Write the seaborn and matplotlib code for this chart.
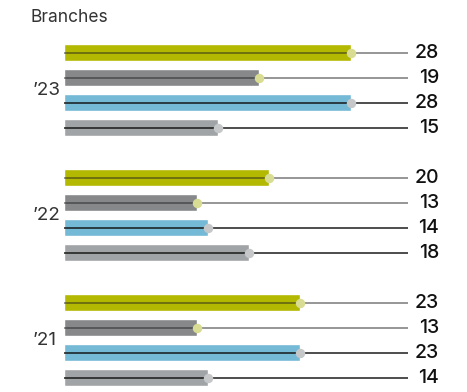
import numpy as np
import pandas as pd
import matplotlib
matplotlib.use("Agg")
import matplotlib.pyplot as plt
import seaborn as sns

# ---- data ----
years = ["’23", "’22", "’21"]
series = ["A", "B", "C", "D"]
values_23 = [28, 19, 28, 15]
values_22 = [20, 13, 14, 18]
values_21 = [23, 13, 23, 14]
title = "Branches"

bar_colors = ["#b3b800", "#86888a", "#74b9d5", "#a1a4a6"]
dot_colors = ["#d9dc93", "#d9dc93", "#c5c7c9", "#c5c7c9"]

sns.set_theme(style="white")
plt.rcParams["font.family"] = ["Inter", "DejaVu Sans"]

rows = []
order = []
all_vals = [values_23, values_22, values_21]
for gi, (yr, vals) in enumerate(zip(years, all_vals)):
    for si, (s, v) in enumerate(zip(series, vals)):
        key = f"{yr}-{s}"
        rows.append({"slot": key, "value": v, "series": s, "year": yr})
        order.append(key)
    if gi < len(years) - 1:
        order.append(f"gap{gi}")
df = pd.DataFrame(rows)

fig = plt.figure(figsize=(4.67, 3.92), dpi=100)
ax = fig.add_axes([0, 0, 1, 1])

sns.barplot(data=df, x="value", y="slot", hue="series", order=order,
            palette=bar_colors, hue_order=series, dodge=False,
            width=0.68, orient="h", legend=False, ax=ax, zorder=1,
            saturation=1)

px_per_unit = 10.25
x0 = 64
ax.set_xlim(-x0 / px_per_unit, (467 - x0) / px_per_unit)
ax.set_ylim((392 - 53) / 25, -53 / 25)
line_end = (408 - x0) / px_per_unit
label_x = (439 - x0) / px_per_unit

for _, r in df.iterrows():
    ypos = order.index(r["slot"])
    si = series.index(r["series"])
    if si < 2:
        lc, la = "#222222", 0.6
    else:
        lc, la = "#111111", 0.95
    ax.plot([0, line_end], [ypos, ypos], color=lc, alpha=la, lw=1.1,
            solid_capstyle="butt", zorder=2)
    ax.plot([r["value"]], [ypos], "o", color=dot_colors[si], ms=6.8,
            mec="none", zorder=3)
    ax.text(label_x, ypos, f"{r['value']}", ha="right", va="center",
            fontsize=14, fontweight="medium", color="#111111")

for gi, yr in enumerate(years):
    ymid = gi * 5 + 1.5
    ax.text((33 - x0) / px_per_unit, ymid, yr, ha="left", va="center",
            fontsize=13.5, color="#333333")

fig.text(31 / 467, 1 - 22.5 / 392, title, ha="left", va="baseline",
         fontsize=12.5, color="#333333")

ax.set_axis_off()
fig.savefig("out.png", dpi=100)
